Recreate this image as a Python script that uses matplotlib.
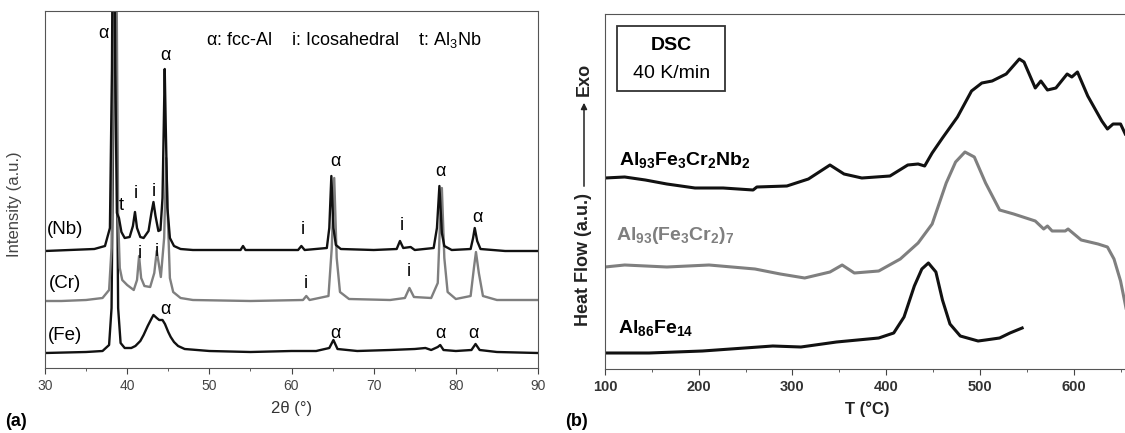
import matplotlib
matplotlib.use("Agg")
import matplotlib.pyplot as plt
from matplotlib.patches import Rectangle

plt.rcParams['font.family'] = ['Liberation Sans', 'DejaVu Sans']
plt.rcParams['mathtext.fontset'] = 'custom'
plt.rcParams['mathtext.default'] = 'regular'

# (a) XRD patterns, 2theta in degrees, intensity in arbitrary offset units
nb_2t = [30.0, 33.0, 36.0, 37.3, 37.9, 38.15, 38.35, 38.55, 38.75, 39.0, 39.3, 39.7, 40.3, 40.7,
         40.95, 41.2, 41.6, 42.0, 42.6, 42.95, 43.2, 43.45, 43.8, 44.05, 44.3, 44.45, 44.57, 44.7,
         44.9, 45.2, 45.7, 46.5, 48.0, 53.8, 54.1, 54.4, 58.0, 60.8, 61.2, 61.6, 64.3, 64.6,
         64.85, 65.1, 65.4, 66.0, 70.0, 72.8, 73.2, 73.6, 74.5, 75.0, 77.3, 77.7, 78.0, 78.3,
         78.6, 79.5, 81.8, 82.1, 82.3, 82.6, 83.0, 86.0, 90.0]
nb_int = [117, 118, 119, 122, 140, 300, 600, 300, 155, 150, 136, 130, 131, 142,
          156, 140, 131, 130, 137, 155, 166, 152, 137, 138, 170, 240, 299, 240,
          160, 130, 122, 119, 118, 118, 122, 118, 118, 118, 122, 118, 120, 140,
          192, 140, 123, 119, 118, 119, 127, 120, 121, 118, 120, 140, 182, 135,
          122, 118, 119, 130, 140, 127, 119, 117, 117]

cr_2t = [30.0, 32.0, 35.0, 37.0, 37.8, 38.1, 38.4, 38.7, 38.9, 39.1, 39.4, 40.0, 40.8, 41.2,
         41.45, 41.7, 42.1, 42.8, 43.3, 43.6, 43.85, 44.1, 44.5, 44.75, 44.95, 45.2, 45.6, 46.5,
         48.0, 55.0, 61.4, 61.8, 62.2, 64.5, 64.9, 65.2, 65.5, 65.9, 67.0, 72.0, 73.8, 74.35,
         74.9, 77.0, 77.8, 78.1, 78.3, 78.6, 79.0, 80.0, 81.8, 82.2, 82.45, 82.8, 83.3, 85.0, 90.0]
cr_int = [67, 67, 68, 70, 78, 120, 400, 400, 150, 100, 88, 83, 78, 88,
          112, 90, 82, 81, 95, 117, 104, 91, 130, 210, 150, 90, 76, 70,
          68, 67, 68, 72, 68, 72, 120, 190, 110, 76, 69, 68, 70, 80,
          71, 70, 85, 150, 180, 110, 76, 69, 72, 100, 116, 95, 72, 68, 68]

fe_2t = [30.0, 35.0, 37.0, 37.8, 38.1, 38.4, 38.65, 38.9, 39.2, 39.7, 40.5, 41.0, 41.6, 42.0,
         42.5, 43.0, 43.2, 43.6, 43.9, 44.3, 44.6, 45.0, 45.3, 45.7, 46.2, 47.0, 50.0, 55.0,
         60.0, 63.0, 64.6, 65.1, 65.6, 68.0, 72.0, 75.0, 76.3, 77.0, 77.8, 78.1, 78.5, 80.0,
         81.9, 82.4, 82.9, 85.0, 90.0]
fe_int = [15, 16, 17, 23, 60, 330, 330, 60, 25, 20, 20, 22, 27, 33,
          42, 50, 53, 50, 48, 48, 44, 36, 31, 26, 22, 19, 17, 16,
          17, 17, 20, 28, 19, 17, 18, 19, 20, 18, 21, 23, 18, 17,
          18, 24, 18, 16, 15]

# (b) DSC traces, temperature in deg C, heat flow in arbitrary offset units
dsc_nb_T = [100, 121, 143, 166, 196, 226, 258, 262, 294, 317, 340, 355, 374, 404, 423, 434,
            441, 449, 460, 476, 491, 502, 513, 528, 542, 547, 559, 565, 572, 581, 593, 598,
            604, 615, 630, 636, 642, 650, 655]
dsc_nb_hf = [191, 192, 189, 185, 181, 181, 179, 182, 183, 190, 204, 195, 191, 193, 204, 205,
             203, 216, 231, 252, 278, 286, 288, 295, 310, 307, 281, 288, 279, 281, 295, 292,
             297, 273, 248, 240, 245, 245, 235]

dsc_cr_T = [100, 121, 166, 211, 260, 287, 313, 340, 353, 366, 392, 415, 434, 449, 464, 474,
            484, 494, 506, 521, 536, 559, 568, 572, 577, 591, 594, 608, 626, 636, 643, 650, 656]
dsc_cr_hf = [102, 104, 102, 104, 100, 95, 91, 97, 104, 96, 98, 110, 126, 145, 186, 207,
             217, 212, 186, 159, 155, 148, 140, 143, 138, 138, 140, 129, 125, 122, 110, 88, 60]

dsc_fe_T = [100, 147, 204, 249, 279, 309, 347, 392, 408, 419, 430, 438, 445, 453, 460, 468,
            479, 498, 506, 521, 532, 545]
dsc_fe_hf = [16, 16, 18, 21, 23, 22, 27, 31, 36, 52, 83, 100, 106, 97, 69, 45,
             33, 28, 29, 31, 36, 41]

GRAY = '#7f7f7f'
DARK = '#111111'

fig = plt.figure(figsize=(11.25, 4.33), dpi=100)

# ---------- (a) XRD ----------
ax1 = fig.add_axes([45 / 1125, 1 - 368 / 433, 493 / 1125, 357 / 433])
ax1.plot(fe_2t, fe_int, color=DARK, lw=1.7)
ax1.plot(cr_2t, cr_int, color=GRAY, lw=1.7)
ax1.plot(nb_2t, nb_int, color=DARK, lw=1.7)
ax1.set_xlim(30, 90)
ax1.set_ylim(0, 357)
ax1.set_yticks([])
ax1.set_xticks(range(30, 91, 10))
ax1.set_xticks(range(35, 90, 10), minor=True)
ax1.tick_params(axis='x', which='major', length=4, color='#444', labelsize=10, labelcolor='#444', pad=4)
ax1.tick_params(axis='x', which='minor', length=2.5, color='#444')
for s in ax1.spines.values():
    s.set_color('#555')
ax1.set_ylabel('Intensity (a.u.)', fontsize=12, color='#444')
ax1.yaxis.set_label_coords(-0.047, 0.46)
ax1.set_xlabel('2θ (°)', fontsize=12, color='#333', labelpad=6)

fs = 13
ax1.text(49.6, 328, 'α: fcc-Al    i: Icosahedral    t: Al$_3$Nb', fontsize=fs, va='center', ha='left')
phase_labels = [
    (37.1, 335, 'α'), (44.7, 313, 'α'), (65.3, 206, 'α'), (78.1, 196, 'α'), (82.6, 151, 'α'),
    (39.3, 162, 't'), (41.1, 175, 'i'), (43.3, 176, 'i'), (61.4, 139, 'i'), (73.4, 142, 'i'),
    (41.5, 115, 'i'), (43.6, 116, 'i'), (61.7, 84, 'i'), (74.3, 97, 'i'),
    (44.6, 58, 'α'), (65.4, 35, 'α'), (78.1, 35, 'α'), (82.2, 35, 'α'),
]
for x, y, s in phase_labels:
    ax1.text(x, y, s, fontsize=fs, ha='center', va='center')
for y, s in [(138, '(Nb)'), (84, '(Cr)'), (32, '(Fe)')]:
    ax1.text(32.4, y, s, fontsize=13.5, ha='center', va='center')

fig.text(5 / 1125, 1 - 421 / 433, '(a)', fontsize=13, fontweight='bold', va='center', ha='left')

# ---------- (b) DSC ----------
ax2 = fig.add_axes([605 / 1125, 1 - 369 / 433, 524 / 1125, 355 / 433])
ax2.plot(dsc_fe_T, dsc_fe_hf, color=DARK, lw=2.2)
ax2.plot(dsc_cr_T, dsc_cr_hf, color=GRAY, lw=2.2)
ax2.plot(dsc_nb_T, dsc_nb_hf, color=DARK, lw=2.2)
ax2.set_xlim(100, 659)
ax2.set_ylim(0, 355)
ax2.set_yticks([])
ax2.set_xticks(range(100, 601, 100))
ax2.set_xticks(range(150, 651, 100), minor=True)
ax2.tick_params(axis='x', which='major', length=4, color='#444', labelsize=10.5, labelcolor='#333', pad=4)
ax2.tick_params(axis='x', which='minor', length=2.5, color='#444')
for lab in ax2.get_xticklabels():
    lab.set_fontweight('bold')
for s in ax2.spines.values():
    s.set_color('#555')
ax2.spines['right'].set_visible(False)
ax2.set_xlabel('T (°C)', fontsize=12, fontweight='bold', color='#222', labelpad=5)

ax2.add_patch(Rectangle((113, 278), 115, 65, fill=False, edgecolor='#333', lw=1.3))
ax2.text(170.5, 324, 'DSC', fontsize=14, fontweight='bold', ha='center', va='center')
ax2.text(170.5, 295, '40 K/min', fontsize=14, ha='center', va='center')

ax2.text(115, 209, 'Al$_{93}$Fe$_3$Cr$_2$Nb$_2$', fontsize=14, fontweight='bold', va='center')
ax2.text(112, 134, 'Al$_{93}$(Fe$_3$Cr$_2$)$_7$', fontsize=14, fontweight='bold', va='center', color=GRAY)
ax2.text(114, 41, 'Al$_{86}$Fe$_{14}$', fontsize=14, fontweight='bold', va='center')

# y label with Exo arrow
fig.text(584 / 1125, 173 / 433, 'Heat Flow (a.u.)', rotation=90, fontsize=13, fontweight='bold',
         ha='center', va='center', color='#222')
ax2.annotate('', xy=(584 / 1125, 333 / 433), xytext=(584 / 1125, 244 / 433),
             xycoords='figure fraction', textcoords='figure fraction',
             arrowprops=dict(arrowstyle='-|>', color='#222', lw=1.1, mutation_scale=9))
fig.text(584 / 1125, 354 / 433, 'Exo', rotation=90, fontsize=13, fontweight='bold',
         ha='center', va='center', color='#222')

fig.text(565 / 1125, 1 - 421 / 433, '(b)', fontsize=13, fontweight='bold', va='center', ha='left')

fig.savefig('out.png', dpi=100)
